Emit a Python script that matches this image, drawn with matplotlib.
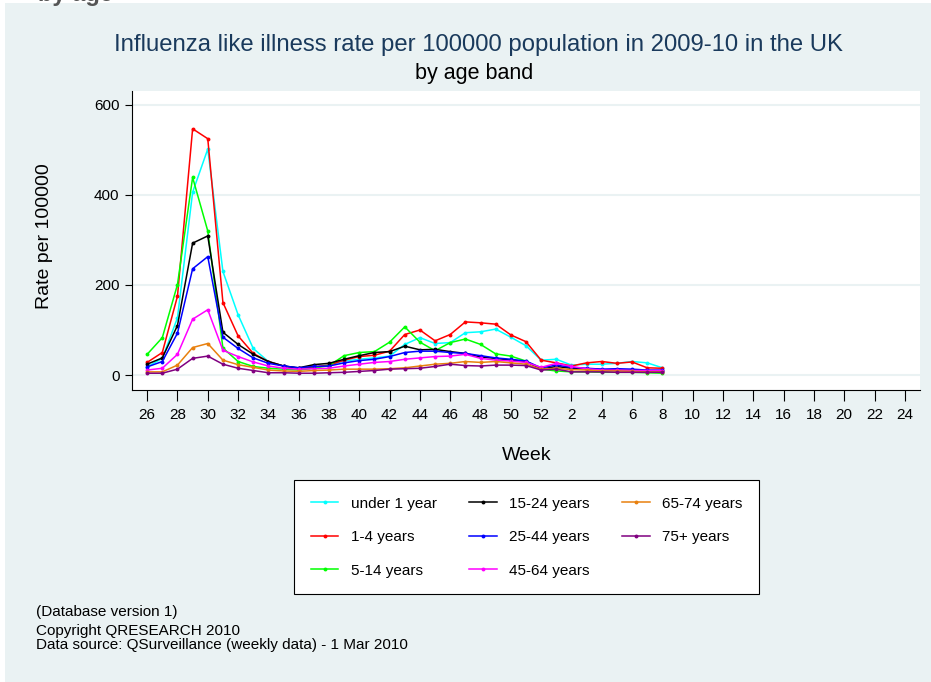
import numpy as np
import matplotlib
matplotlib.use("Agg")
import matplotlib.pyplot as plt
from matplotlib.patches import Rectangle

plt.rcParams['font.family'] = ['Liberation Sans', 'DejaVu Sans']

# --- data (rate per 100000) ---
weeks = [26, 27, 28, 29, 30, 31, 32, 33, 34, 35, 36, 37, 38, 39, 40, 41, 42,
         43, 44, 45, 46, 47, 48, 49, 50, 51, 52, 1, 2, 3, 4, 5, 6, 7, 8]

under1 = [18, 37, 127, 406, 502, 230, 134, 59, 30, 20, 15, 17, 22, 31, 35, 38, 42,
          68, 83, 70, 72, 94, 96, 102, 84, 65, 33, 35, 22, 24, 24, 26, 30, 27, 16]
age1_4 = [28, 50, 175, 547, 525, 161, 87, 48, 30, 20, 15, 18, 22, 33, 41, 44, 53,
          90, 100, 76, 90, 118, 116, 113, 89, 74, 33, 27, 20, 27, 30, 26, 29, 16, 15]
age5_14 = [46, 83, 201, 439, 320, 60, 30, 19, 15, 13, 11, 15, 21, 43, 50, 52, 73,
           107, 73, 54, 72, 80, 68, 47, 42, 31, 13, 9, 7, 7, 6, 6, 6, 5, 4]
age15_24 = [24, 38, 110, 293, 309, 95, 68, 46, 30, 20, 16, 23, 26, 35, 43, 50, 52,
            64, 56, 57, 52, 48, 40, 37, 33, 30, 13, 19, 15, 14, 12, 11, 10, 9, 9]
age25_44 = [18, 30, 93, 236, 263, 84, 59, 38, 26, 20, 16, 19, 20, 27, 32, 35, 41,
            50, 53, 53, 50, 48, 43, 38, 35, 31, 16, 22, 17, 15, 13, 14, 13, 11, 11]
age45_64 = [11, 15, 46, 124, 145, 55, 41, 29, 20, 15, 13, 14, 15, 20, 24, 28, 30,
            35, 38, 41, 42, 46, 37, 33, 31, 28, 17, 26, 19, 14, 11, 11, 10, 10, 10]
age65_74 = [7, 7, 22, 61, 70, 33, 23, 17, 11, 9, 8, 10, 11, 13, 13, 13, 14,
            16, 20, 24, 26, 30, 28, 30, 27, 24, 13, 15, 12, 11, 9, 9, 8, 7, 7]
age75 = [4, 4, 13, 37, 42, 24, 15, 10, 5, 5, 4, 4, 5, 6, 8, 10, 13,
         14, 15, 19, 24, 21, 20, 22, 22, 21, 11, 13, 7, 7, 7, 6, 6, 6, 6]

series = [
    ("under 1 year", under1, "#00ffff"),
    ("1-4 years", age1_4, "#ff0000"),
    ("5-14 years", age5_14, "#00ff00"),
    ("15-24 years", age15_24, "#000000"),
    ("25-44 years", age25_44, "#0000ff"),
    ("45-64 years", age45_64, "#ff00ff"),
    ("65-74 years", age65_74, "#e8800e"),
    ("75+ years", age75, "#800080"),
]

tick_weeks = list(range(26, 53, 2)) + list(range(2, 25, 2))
y_ticks = [0, 200, 400, 600]


def week_pos(w):
    # weeks of 2010 follow on after week 52 of 2009
    w = np.asarray(w)
    return np.where(w >= 26, w, w + 52)


bg = "#eaf2f3"
W, H = 931, 682
fig = plt.figure(figsize=(W / 100, H / 100), dpi=100, facecolor=bg)

# thin white strips at top/left edge of the screenshot
fig.patches.append(Rectangle((0, 1 - 3 / H), 1, 3 / H, transform=fig.transFigure,
                             facecolor="white", edgecolor="none", zorder=0))
fig.patches.append(Rectangle((0, 0), 5 / W, 1, transform=fig.transFigure,
                             facecolor="white", edgecolor="none", zorder=0))
# cut-off heading from the page above
fig.text(38 / W, 1 - 1 / H, "by age", fontsize=17, fontweight="bold",
         color="#555555", va="baseline", ha="left", zorder=5)

ax = fig.add_axes([132 / W, 1 - 390 / H, (920 - 132) / W, (390 - 91) / H])
ax.set_facecolor("white")

x = week_pos(weeks)
for label, vals, col in series:
    ax.plot(x, vals, color=col, lw=1.1, marker="o", ms=2.8, mew=0, label=label)

ax.set_xlim(25, 77)
ax.set_ylim(-33.3, 631)

ax.set_xticks(week_pos(tick_weeks))
ax.set_xticklabels([str(w) for w in tick_weeks])
ax.set_yticks(y_ticks)
ax.set_yticklabels([str(v) for v in y_ticks])
ax.tick_params(axis="x", length=8, width=0.8, pad=5, labelsize=11)
ax.tick_params(axis="y", length=5, width=0.8, pad=4, labelsize=11)

ax.grid(axis="y", color=bg, lw=1.5)
ax.set_axisbelow(True)
for s in ["top", "right"]:
    ax.spines[s].set_visible(False)
for s in ["left", "bottom"]:
    ax.spines[s].set_linewidth(0.8)

# axis titles
fig.text(527 / W, 1 - 456 / H, "Week", fontsize=14, ha="center", va="center")
fig.text(45 / W, 1 - 236 / H, "Rate per 100000", fontsize=14, rotation=90,
         ha="center", va="center")

fig.text(478 / W, 1 - 45 / H, "Influenza like illness rate per 100000 population in 2009-10 in the UK",
         ha="center", va="center", fontsize=17.2, color="#1a3a5c")
fig.text(474 / W, 1 - 73 / H, "by age band", ha="center", va="center", fontsize=15.5)

leg = fig.legend(loc="upper left", bbox_to_anchor=(294 / W, 1 - 480 / H), ncol=3,
                 fontsize=11, frameon=True, fancybox=False, edgecolor="black",
                 framealpha=1, borderpad=1.1, labelspacing=1.27, columnspacing=2.15,
                 handlelength=1.8, handletextpad=0.8, borderaxespad=0)
leg.get_frame().set_linewidth(0.8)

fig.text(36 / W, 1 - 616 / H, "(Database version 1)", fontsize=11, va="baseline")
fig.text(36 / W, 1 - 635 / H, "Copyright QRESEARCH 2010", fontsize=11, va="baseline")
fig.text(36 / W, 1 - 649 / H, "Data source: QSurveillance (weekly data) - 1 Mar 2010",
         fontsize=11, va="baseline")

fig.savefig("out.png", dpi=100, facecolor=bg)
